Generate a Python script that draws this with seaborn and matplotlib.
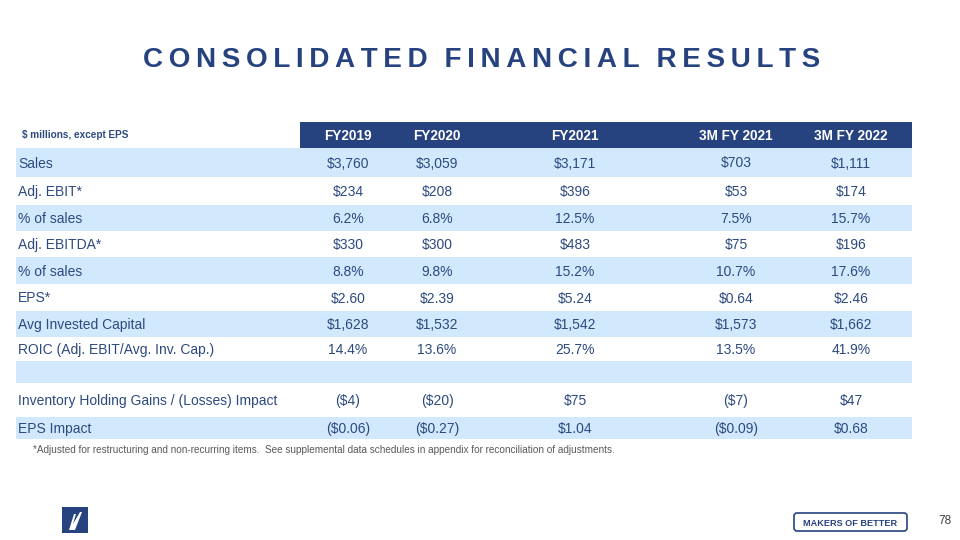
import matplotlib
matplotlib.use("Agg")
import matplotlib.pyplot as plt
import seaborn as sns
from matplotlib.patches import Rectangle, FancyBboxPatch, Polygon

# DATA
columns = ["FY2019", "FY2020", "FY2021", "3M FY 2021", "3M FY 2022"]
row_labels = ["Sales", "Adj. EBIT*", "% of sales", "Adj. EBITDA*", "% of sales", "EPS*",
              "Avg Invested Capital", "ROIC (Adj. EBIT/Avg. Inv. Cap.)", "",
              "Inventory Holding Gains / (Losses) Impact", "EPS Impact"]
fy2019 = ["$3,760", "$234", "6.2%", "$330", "8.8%", "$2.60", "$1,628", "14.4%", "", "($4)", "($0.06)"]
fy2020 = ["$3,059", "$208", "6.8%", "$300", "9.8%", "$2.39", "$1,532", "13.6%", "", "($20)", "($0.27)"]
fy2021 = ["$3,171", "$396", "12.5%", "$483", "15.2%", "$5.24", "$1,542", "25.7%", "", "$75", "$1.04"]
q1_fy2021 = ["$703", "$53", "7.5%", "$75", "10.7%", "$0.64", "$1,573", "13.5%", "", "($7)", "($0.09)"]
q1_fy2022 = ["$1,111", "$174", "15.7%", "$196", "17.6%", "$2.46", "$1,662", "41.9%", "", "$47", "$0.68"]
values = [fy2019, fy2020, fy2021, q1_fy2021, q1_fy2022]

title = "CONSOLIDATED FINANCIAL RESULTS"
unit_note = "$ millions, except EPS"
footnote = ("*Adjusted for restructuring and non-recurring items.  See supplemental data "
            "schedules in appendix for reconciliation of adjustments.")

# LAYOUT / STYLE
navy = "#26427F"
text_blue = "#2C4A80"
band = "#D2E8FC"
col_x = [348, 437, 575, 736, 851]
row_edges = [148, 177, 205, 231, 257, 284, 311, 337, 361, 383, 417, 439]
table_left, table_right, header_left = 16, 912, 300

sns.set_theme(style="white")
plt.rcParams['font.family'] = ['Liberation Sans', 'DejaVu Sans']

fig = plt.figure(figsize=(9.6, 5.4), dpi=100)
ax = fig.add_axes([0, 0, 1, 1])
ax.set_xlim(0, 960)
ax.set_ylim(540, 0)
ax.axis("off")

# TITLE (letter-spaced)
spaced = "\u2009".join(title).replace("\u2009 \u2009", "\u2009\u2009\u2009")
ax.text(482, 67, spaced, ha="center", va="baseline", fontsize=20.1, fontweight="bold", color=navy)

# HEADER
ax.add_patch(Rectangle((header_left, 122), table_right - header_left, 26, color=navy, lw=0))
ax.text(22, 138.5, unit_note, ha="left", va="baseline", fontsize=7.2, fontweight="bold", color=text_blue)
for x, c in zip(col_x, columns):
    ax.text(x, 140, c, ha="center", va="baseline", fontsize=9.8, fontweight="bold", color="white")

# BODY
for i, lab in enumerate(row_labels):
    top, bot = row_edges[i], row_edges[i + 1]
    if i % 2 == 0:
        ax.add_patch(Rectangle((table_left, top), table_right - table_left, bot - top, color=band, lw=0))
    yb = (top + bot) / 2 + 5
    ax.text(18, yb, lab, ha="left", va="baseline", fontsize=10, color=text_blue)
    for x, col in zip(col_x, values):
        ax.text(x, yb, col[i], ha="center", va="baseline", fontsize=10, color=text_blue)

ax.text(33, 453, footnote, ha="left", va="baseline", fontsize=7.2, color="#595959")

# LOGOS / PAGE NUMBER
ax.add_patch(Rectangle((62, 507), 26, 26, color=navy, lw=0))
ax.add_patch(Polygon([[69, 530], [74, 514], [76, 514], [73, 524], [80, 512], [82, 512], [75, 530]],
                     closed=True, color="white", lw=0))
ax.add_patch(FancyBboxPatch((794, 513), 113, 18, boxstyle="round,pad=0,rounding_size=3",
                            fill=False, ec=navy, lw=1.2))
ax.text(850.5, 525.5, "MAKERS OF BETTER", ha="center", va="baseline", fontsize=6.6,
        fontweight="bold", color=navy)
ax.text(945, 524, "78", ha="center", va="baseline", fontsize=8.5, color="#404040")

fig.savefig("out.png", dpi=100)
